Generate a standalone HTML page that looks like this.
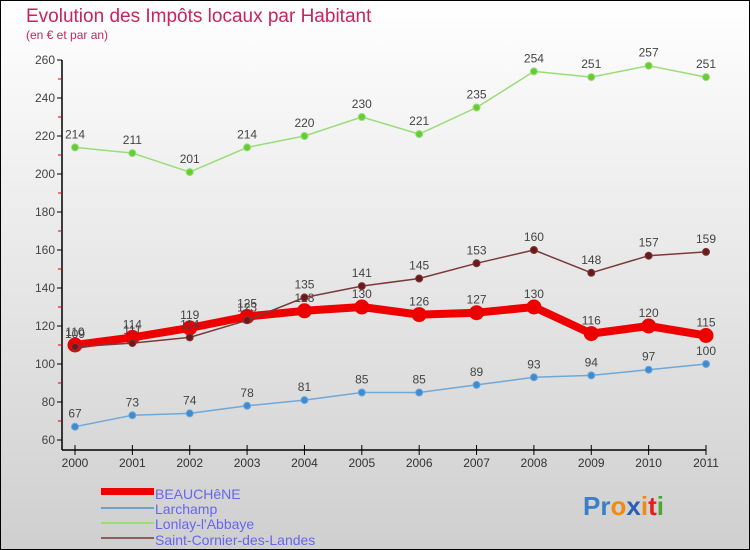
<!DOCTYPE html>
<html><head><meta charset="utf-8"><style>
body{margin:0}
#c{width:750px;height:550px;position:relative;overflow:hidden;font-family:"Liberation Sans",sans-serif}
</style></head><body>
<div id="c">
<svg id="s" width="750" height="550" xmlns="http://www.w3.org/2000/svg">
<defs><linearGradient id="bg" x1="0" y1="0" x2="0" y2="1"><stop offset="0" stop-color="#ffffff"/><stop offset="1" stop-color="#cfcfcf"/></linearGradient></defs>
<rect x="0.5" y="0.5" width="749" height="549" fill="url(#bg)" stroke="#000"/>
<text x="26" y="22" font-size="19" fill="#c8245a">Evolution des Impôts locaux par Habitant</text>
<text x="26" y="39" font-size="12" fill="#c8245a">(en € et par an)</text>
<g id="axes"></g><g id="series"></g>
<g>
<rect x="101" y="488" width="53" height="7" fill="#ee0000"/>
<text x="155" y="499" font-size="14" fill="#6666ee">BEAUCHêNE</text>
<line x1="101" y1="508" x2="154" y2="508" stroke="#6fa0c8" stroke-width="2"/>
<text x="155" y="514" font-size="14" fill="#6666ee">Larchamp</text>
<line x1="101" y1="523" x2="154" y2="523" stroke="#99dd77" stroke-width="2"/>
<text x="155" y="529" font-size="14" fill="#6666ee">Lonlay-l'Abbaye</text>
<line x1="101" y1="538" x2="154" y2="538" stroke="#8b6060" stroke-width="2"/>
<text x="155" y="545" font-size="14" fill="#6666ee">Saint-Cornier-des-Landes</text>
</g>
<g font-size="26" font-weight="bold">
<text x="583" y="515"><tspan fill="#3a7fc8">Pr</tspan><tspan fill="#f08a10">o</tspan><tspan fill="#2a5fb8">x</tspan><tspan fill="#f08a10">i</tspan><tspan fill="#e02020">t</tspan><tspan fill="#44aa33">i</tspan></text>
</g>
</svg>
</div>
<script>
const years=["2000","2001","2002","2003","2004","2005","2006","2007","2008","2009","2010","2011"];
const yTicks=[60,80,100,120,140,160,180,200,220,240,260];
const beauchene=[110,114,119,125,128,130,126,127,130,116,120,115];
const larchamp=[67,73,74,78,81,85,85,89,93,94,97,100];
const lonlay=[214,211,201,214,220,230,221,235,254,251,257,251];
const saintCornier=[109,111,114,123,135,141,145,153,160,148,157,159];
const NS="http://www.w3.org/2000/svg";
function X(i){return 75+i*(706-75)/(years.length-1);}
function Y(v){return 440-(v-60)*1.9;}
function mk(p,tag,a){const e=document.createElementNS(NS,tag);for(const k in a)e.setAttribute(k,a[k]);p.appendChild(e);return e;}
const ax=document.getElementById('axes');
mk(ax,'line',{x1:62,y1:60,x2:62,y2:450,stroke:'#000','stroke-width':1.5});
mk(ax,'line',{x1:62,y1:450,x2:706,y2:450,stroke:'#000','stroke-width':1.5});
yTicks.forEach(t=>{
 mk(ax,'line',{x1:57,y1:Y(t),x2:62,y2:Y(t),stroke:'#000'});
 if(t<260)mk(ax,'line',{x1:58,y1:Y(t+10),x2:62,y2:Y(t+10),stroke:'#d00'});
 const tx=mk(ax,'text',{x:55,y:Y(t)+4,'font-size':12,fill:'#444','text-anchor':'end'});
 
 
 tx.textContent=t;
});
years.forEach((yr,i)=>{
 mk(ax,'line',{x1:X(i),y1:445,x2:X(i),y2:455,stroke:'#000'});
 const tx=mk(ax,'text',{x:X(i),y:467,'font-size':12,fill:'#333','text-anchor':'middle'});
 
 
 tx.textContent=yr;
});
const sg=document.getElementById('series');
function draw(vals,name,color,dot,w,r,lab){
 const g=mk(sg,'g',{});
 
 
 mk(g,'polyline',{points:vals.map((v,i)=>X(i)+','+Y(v)).join(' '),fill:'none',stroke:color,'stroke-width':w,'stroke-linejoin':'round'});
 vals.forEach((v,i)=>{
  const c=mk(g,'circle',{cx:X(i),cy:Y(v),r:r,fill:dot,stroke:color,'stroke-width':1});
  
  
  const t=mk(g,'text',{x:X(i),y:Y(v)-9,'font-size':12,fill:lab,'text-anchor':'middle'});
  
  
  t.textContent=v;
 });
}
draw(larchamp,'larchamp','#6fa8d8','#3d8bd0',1.5,3.5,'#444');
draw(lonlay,'lonlay','#99dd77','#66cc33',1.5,3.5,'#444');
draw(beauchene,'beauchene','#ee0000','#ee0000',8,7,'#444');
draw(saintCornier,'saint-cornier','#7a3a3a','#6a1a1a',1.5,3.5,'#444');
</script>
</body></html>
